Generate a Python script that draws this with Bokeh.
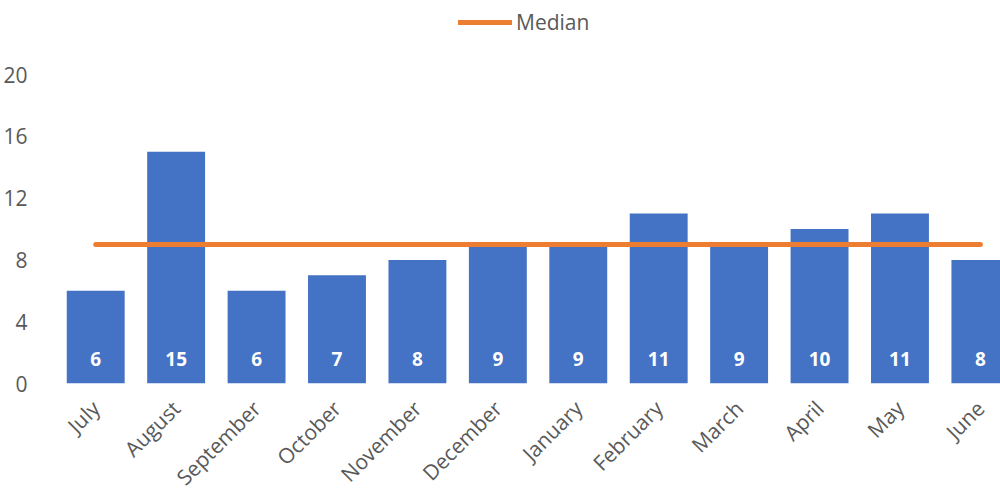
import numpy as np
from math import pi
from bokeh.plotting import figure
from bokeh.models import ColumnDataSource, FixedTicker, Range1d, Legend, LegendItem
from bokeh.core.properties import value
from bokeh.embed import file_html
from bokeh.resources import INLINE

months = ["July", "August", "September", "October", "November", "December",
          "January", "February", "March", "April", "May", "June"]
counts = [6, 15, 6, 7, 8, 9, 9, 11, 9, 10, 11, 8]
y_ticks = [0, 4, 8, 12, 16, 20]

median_value = float(np.median(counts))
xs = list(range(len(months)))

FONT = "Open Sans"
GREY = "#595959"
BLUE = "#4472C4"
ORANGE = "#ED7D31"

src = ColumnDataSource(dict(x=xs, count=counts, label=[str(c) for c in counts],
                            zero=[0] * len(counts), med=[median_value] * len(counts)))

p = figure(frame_width=945, frame_height=383, output_backend="svg", toolbar_location=None,
           x_range=Range1d(-0.5, 11.25), y_range=Range1d(0, 24.79),
           min_border_left=55, min_border_right=0, min_border_top=0, min_border_bottom=0)
p.outline_line_color = None
p.xgrid.grid_line_color = None
p.ygrid.grid_line_color = None
p.background_fill_color = "white"
p.border_fill_color = "white"

p.vbar(x="x", top="count", bottom=0, width=0.72, source=src, fill_color=BLUE, line_color=None)
med = p.line(x="x", y="med", source=src, line_color=ORANGE, line_width=5, line_cap="round")

p.text(x="x", y="zero", text="label", source=src, y_offset=-25,
       text_align="center", text_baseline="middle", text_color="white",
       text_font=value(FONT), text_font_style="bold", text_font_size="19px")

# axes
p.yaxis.ticker = FixedTicker(ticks=y_ticks)
p.yaxis.axis_line_color = None
p.yaxis.major_tick_line_color = None
p.yaxis.minor_tick_line_color = None
p.yaxis.major_label_text_font = FONT
p.yaxis.major_label_text_font_size = "21px"
p.yaxis.major_label_text_color = GREY
p.yaxis.major_label_standoff = 22

p.xaxis.ticker = FixedTicker(ticks=xs)
p.xaxis.major_label_overrides = {i: m for i, m in enumerate(months)}
p.xaxis.major_label_orientation = pi / 4
p.xaxis.axis_line_color = None
p.xaxis.major_tick_line_color = None
p.xaxis.minor_tick_line_color = None
p.xaxis.major_label_text_font = FONT
p.xaxis.major_label_text_font_size = "21px"
p.xaxis.major_label_text_color = GREY
p.xaxis.major_label_standoff = 15

legend = Legend(items=[LegendItem(label="Median", renderers=[med])],
                location=(403, 347), orientation="horizontal",
                glyph_width=54, glyph_height=20, label_height=20, label_standoff=4,
                label_text_font=FONT, label_text_font_size="21px", label_text_color=GREY,
                padding=0, margin=0, border_line_color=None, background_fill_alpha=0)
p.add_layout(legend, "center")

open("out.html", "w").write(file_html(p, INLINE))
